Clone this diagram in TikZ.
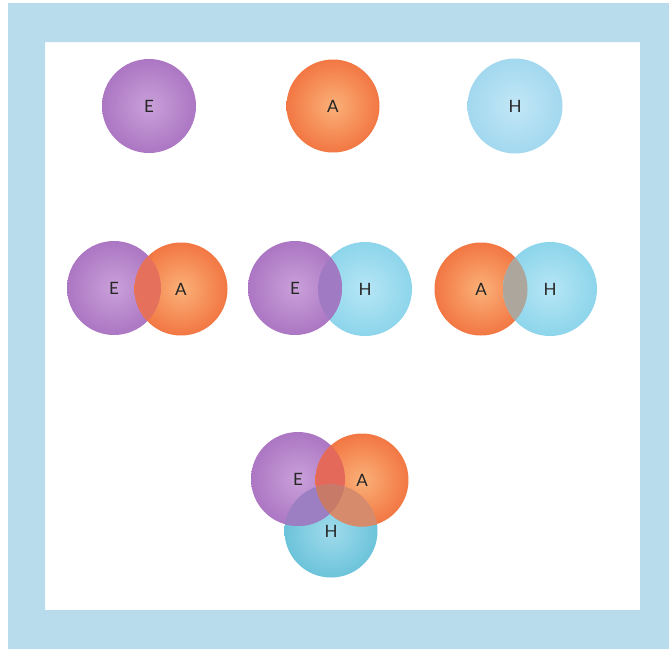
\documentclass[tikz,border=0pt]{standalone}
\usepackage{fontspec}
\setmainfont{Lato}
\begin{document}
\begin{tikzpicture}[x=1pt,y=-1pt,
  lab/.style={text=black!85, font=\fontsize{17}{20}\selectfont},
  bub/.style={circle, minimum size=#1, inner sep=0pt, lab},
  pE/.style={bub=94pt, shade, inner color=purpIn, outer color=purpOut},
  pA/.style={bub=93pt, shade, inner color=oranIn, outer color=oranOut},
  pH/.style={bub=95pt, shade, inner color=bluIn, outer color=bluOut},
  pH2/.style={bub=94pt, shade, inner color=cyIn, outer color=cyOut},
  pH3/.style={bub=93pt, shade, inner color=tealIn, outer color=tealOut},
]
\definecolor{frame}{HTML}{B8DCEC}
\definecolor{purpIn}{HTML}{C9A0D9}
\definecolor{purpOut}{HTML}{AC76C3}
\definecolor{oranIn}{HTML}{FBB078}
\definecolor{oranOut}{HTML}{F27743}
\definecolor{bluIn}{HTML}{C2E7F6}
\definecolor{bluOut}{HTML}{A2D8EF}
\definecolor{cyIn}{HTML}{B6E6F5}
\definecolor{cyOut}{HTML}{8DD5EB}
\definecolor{tealIn}{HTML}{A0DBEC}
\definecolor{tealOut}{HTML}{6CC3DA}
\definecolor{ovEA}{HTML}{E5705C}
\definecolor{ovEH}{HTML}{A07BC3}
\definecolor{ovAH}{HTML}{ACA69C}
\definecolor{tEA}{HTML}{E4695A}
\definecolor{tEH}{HTML}{9C7FC3}
\definecolor{tAH}{HTML}{D68C6C}
\definecolor{tEAH}{HTML}{C77A68}

\useasboundingbox (0,0) rectangle (669,649);
\fill[white] (0,0) rectangle (669,649);
\fill[frame, even odd rule] (8,3) rectangle (669,649) (45,42) rectangle (640,610);

% top row
\node[pE] (e1) at (149,106) {E};
\node[pA] (a1) at (333,106) {A};
\node[pH] (h1) at (515,106) {H};

% E-A pair
\node[pE] (e2) at (114,288) {E};
\node[pA] (a2) at (181,289) {A};
\begin{scope}
  \clip (e2.center) circle (47);
  \fill[ovEA] (a2.center) circle (46.5);
\end{scope}

% E-H pair
\node[pH2] (h2) at (365,289) {H};
\node[pE] (e3) at (295,288) {E};
\begin{scope}
  \clip (e3.center) circle (47);
  \fill[ovEH] (h2.center) circle (47);
\end{scope}

% A-H pair
\node[pA] (a3) at (481,289) {A};
\node[pH2] (h3) at (550,289) {H};
\begin{scope}
  \clip (a3.center) circle (46.5);
  \fill[ovAH] (h3.center) circle (47);
\end{scope}

% triple
\node[pH3] (h4) at (331,531) {};
\node[pE] (e4) at (298,479) {E};
\node[pA] (a4) at (362,480) {A};
\begin{scope}
  \clip (e4.center) circle (47);
  \fill[tEA] (a4.center) circle (46.5);
\end{scope}
\begin{scope}
  \clip (e4.center) circle (47);
  \fill[tEH] (h4.center) circle (46.5);
\end{scope}
\begin{scope}
  \clip (a4.center) circle (46.5);
  \fill[tAH] (h4.center) circle (46.5);
\end{scope}
\begin{scope}
  \clip (a4.center) circle (46.5);
  \clip (e4.center) circle (47);
  \fill[tEAH] (h4.center) circle (46.5);
\end{scope}
\node[lab] (lh4) at (h4) {H};
\end{tikzpicture}
\end{document}
